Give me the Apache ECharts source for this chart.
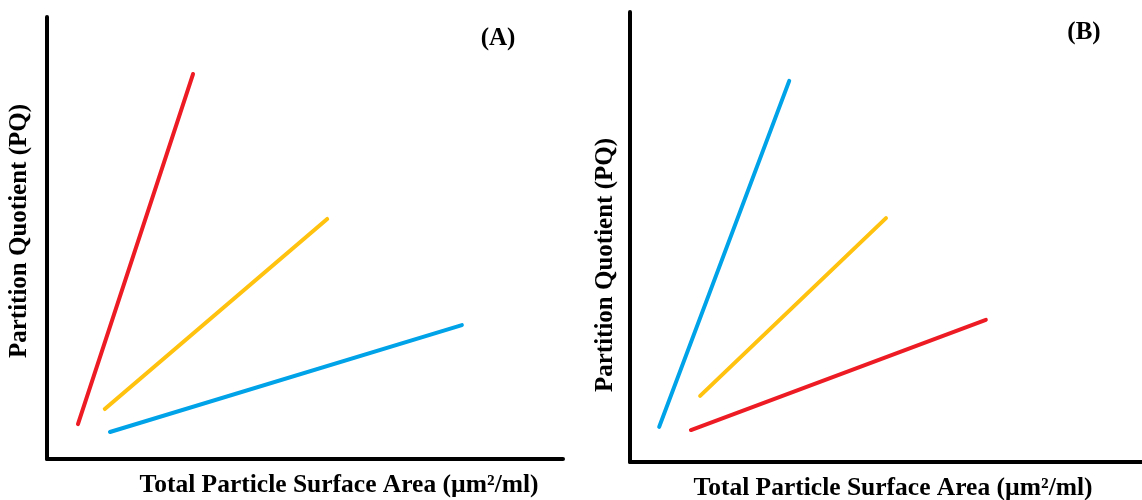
<!DOCTYPE html>
<html>
<head>
<meta charset="utf-8">
<style>
  html, body { margin: 0; padding: 0; background: #fff; }
  #chart { width: 1142px; height: 500px; }
</style>
<script src="https://cdn.jsdelivr.net/npm/echarts@6/dist/echarts.min.js"></script>
</head>
<body>
<div id="chart"></div>
<script>
const chart = echarts.init(document.getElementById("chart"));

// Panel A: start / end points of each line (arbitrary 0-100 units)
const redA = [[6.0, 7.9], [28.3, 87.1]];
const yellowA = [[11.2, 11.3], [54.3, 54.3]];
const blueA = [[12.2, 6.1], [80.4, 30.3]];

// Panel B
const blueB = [[5.7, 7.8], [31.1, 84.7]];
const yellowB = [[13.7, 14.7], [50.0, 54.2]];
const redB = [[11.9, 7.1], [69.5, 31.6]];

const RED = "#ed1c24";
const YELLOW = "#ffc20e";
const BLUE = "#00a2e8";

const X_LABEL = "Total Particle Surface Area (µm²/ml)";
const Y_LABEL = "Partition Quotient (PQ)";
const FONT = "'Liberation Serif', 'Times New Roman', serif";

function axis(idx) {
	return {
		type: "value",
		gridIndex: idx,
		min: 0,
		max: 100,
		axisLine: { show: true, lineStyle: { color: "#000", width: 4 } },
		axisTick: { show: false },
		axisLabel: { show: false },
		splitLine: { show: false }
	};
}

function line(data, color, idx) {
	return {
		type: "line",
		data: data,
		xAxisIndex: idx,
		yAxisIndex: idx,
		symbol: "none",
		silent: true,
		lineStyle: { color: color, width: 4, cap: "round" }
	};
}

function label(text, x, y, size, rotation) {
	return {
		type: "text",
		x: x,
		y: y,
		rotation: rotation || 0,
		style: {
			text: text,
			font: "bold " + size + "px " + FONT,
			fill: "#000",
			align: "center",
			verticalAlign: "middle"
		}
	};
}

option = {
	animation: false,
	grid: [
		{ left: 47, top: 17, width: 516, height: 442 },
		{ left: 630, top: 12, width: 512, height: 450 }
	],
	xAxis: [axis(0), axis(1)],
	yAxis: [axis(0), axis(1)],
	series: [
		line(redA, RED, 0),
		line(yellowA, YELLOW, 0),
		line(blueA, BLUE, 0),
		line(blueB, BLUE, 1),
		line(yellowB, YELLOW, 1),
		line(redB, RED, 1)
	],
	graphic: [
		label("(A)", 498, 39, 25),
		label("(B)", 1084, 33, 25),
		label(X_LABEL, 339, 485, 25.5),
		label(X_LABEL, 893, 488, 25.5),
		label(Y_LABEL, 20, 231, 25, Math.PI / 2),
		label(Y_LABEL, 606, 265, 25, Math.PI / 2)
	]
};

chart.setOption(option);
window.onresize = chart.resize;
</script>
</body>
</html>
